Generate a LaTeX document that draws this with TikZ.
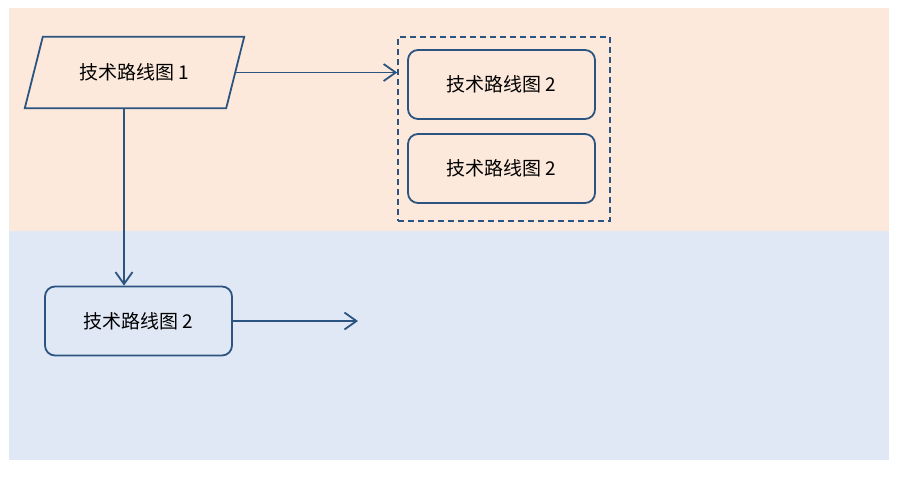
\documentclass[tikz,border=0pt]{standalone}
\usepackage{fontspec}
\setmainfont{Noto Sans CJK SC}
\usepackage{tikz}
\usetikzlibrary{positioning}
\usetikzlibrary{arrows.meta}
\definecolor{lineblue}{HTML}{2B5580}
\definecolor{bandorange}{HTML}{FCE9DB}
\definecolor{bandblue}{HTML}{E0E8F5}
\tikzset{
  stepbox/.style={draw=lineblue, line width=1.8pt, rounded corners=10pt, minimum width=187pt, minimum height=69pt, font=\fontsize{19}{22}\selectfont},
  slantbox/.style={minimum width=201pt, minimum height=71pt, inner sep=0pt, font=\fontsize{19}{22}\selectfont},
  groupbox/.style={draw=lineblue, line width=1.6pt, dash pattern=on 6pt off 4pt, minimum width=212pt, minimum height=184pt},
  arr/.style={draw=lineblue, line width=1.8pt, -{Straight Barb[length=12pt, width=17pt, line width=1.8pt]}}
}

\begin{document}
\begin{tikzpicture}[x=1pt, y=-1pt]
  \useasboundingbox (0,0) rectangle (921,477);
  \fill[bandorange] (9,8) rectangle (889,231);
  \fill[bandblue] (9,231) rectangle (889,460);

  \node[slantbox] (route1) at (134.5, 72.5) {技术路线图 1};
  \draw[lineblue, line width=1.8pt] ([xshift=9pt]route1.north west) -- ([xshift=9pt]route1.north east) -- ([xshift=-9pt]route1.south east) -- ([xshift=-9pt]route1.south west) -- cycle;

  \node[groupbox] (group) at (504, 129) {};
  \node[stepbox] (routeA) at (501.5, 84.5) {技术路线图 2};
  \node[stepbox] (routeB) at (501.5, 168.5) {技术路线图 2};

  \node[stepbox] (route2) at (138.5, 321) {技术路线图 2};
  \coordinate (route2end) at (358, 321);

  \draw[arr] (route1.east) -- (route1.east -| group.west);
  \draw[arr] ([xshift=-10.5pt]route1.south) -- ([xshift=-10.5pt]route1.south |- route2.north);
  \draw[arr] (route2.east) -- (route2end);
\end{tikzpicture}
\end{document}
